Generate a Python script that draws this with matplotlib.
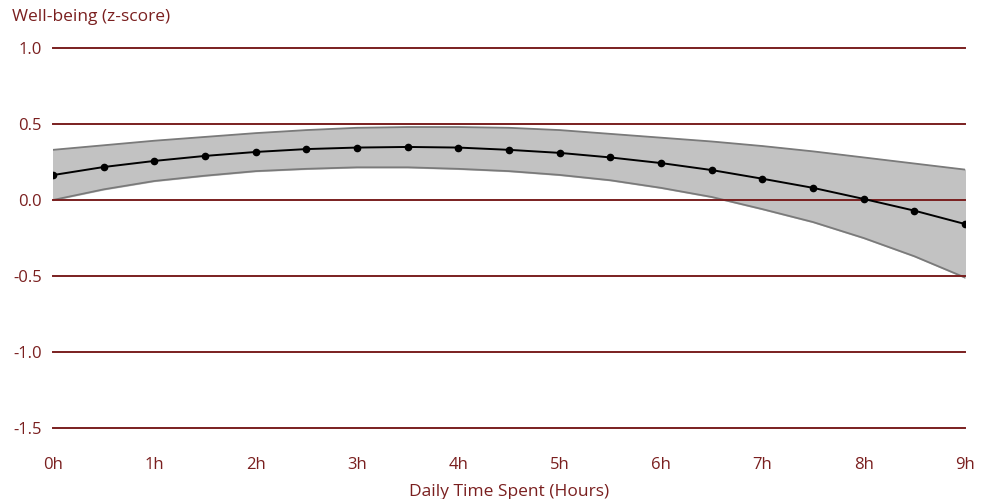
import matplotlib.pyplot as plt
import numpy as np

plt.rcParams['font.family'] = ['Open Sans', 'DejaVu Sans']

hours = [0, 0.5, 1, 1.5, 2, 2.5, 3, 3.5, 4, 4.5, 5, 5.5, 6, 6.5, 7, 7.5, 8, 8.5, 9]
wellbeing = [0.164, 0.217, 0.257, 0.29, 0.316, 0.335, 0.345, 0.349, 0.345, 0.33,
             0.31, 0.28, 0.243, 0.197, 0.14, 0.08, 0.007, -0.07, -0.158]
upper = [0.33, 0.36, 0.39, 0.415, 0.44, 0.46, 0.475, 0.48, 0.48, 0.475,
         0.46, 0.435, 0.41, 0.385, 0.355, 0.32, 0.28, 0.24, 0.2]
lower = [0.0, 0.07, 0.125, 0.16, 0.19, 0.205, 0.215, 0.215, 0.205, 0.19,
         0.165, 0.13, 0.08, 0.02, -0.06, -0.145, -0.25, -0.37, -0.51]
yticks = [-1.5, -1.0, -0.5, 0.0, 0.5, 1.0]
xticks = list(range(10))
xlabels = ["%dh" % h for h in xticks]

red = "#7a1f1f"

fig = plt.figure(figsize=(9.87, 4.99), dpi=100)
ax = fig.add_axes([0.0537, 0.1423, 0.924, 0.7615])

ax.fill_between(hours, lower, upper, color="#c2c2c2", zorder=1)
ax.plot(hours, upper, color="#7a7a7a", linewidth=1.3, zorder=2)
ax.plot(hours, lower, color="#7a7a7a", linewidth=1.3, zorder=2)

# grid lines sit on top of the band but under the estimate line
for y in yticks:
    ax.axhline(y, color=red, linewidth=1.4, zorder=3, clip_on=False)

ax.plot(hours, wellbeing, "o-", color="black", markersize=4.5, linewidth=1.4, zorder=4)

ax.set_xlim(0, 9)
ax.set_ylim(-1.5, 1.0)
ax.set_yticks(yticks)
ax.set_yticklabels(["%.1f" % y for y in yticks])
ax.set_xticks(xticks)
ax.set_xticklabels(xlabels)
ax.tick_params(length=0, colors=red, labelsize=12)
ax.tick_params(axis="x", pad=21)
ax.tick_params(axis="y", pad=8)
for s in ax.spines.values():
    s.set_visible(False)

ax.set_xlabel("Daily Time Spent (Hours)", color=red, fontsize=12.5, labelpad=8)
fig.text(0.012, 0.965, "Well-being (z-score)", color=red, fontsize=12.5, ha="left", va="center")

plt.savefig("out.png")
